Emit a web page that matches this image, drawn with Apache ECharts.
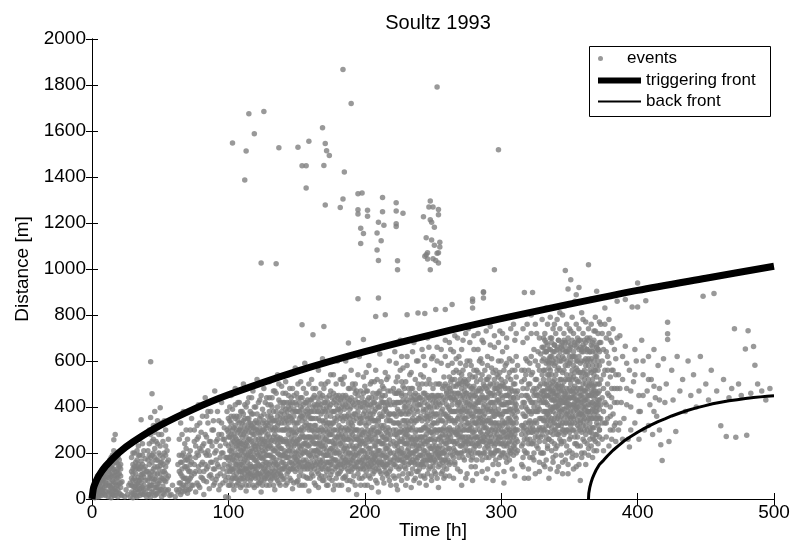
<!DOCTYPE html>
<html>
<head>
<meta charset="utf-8">
<script src="https://cdn.jsdelivr.net/npm/echarts@6/dist/echarts.min.js"></script>
<style>
  html, body { margin: 0; padding: 0; background: #fff; }
  #chart { width: 805px; height: 551px; }
</style>
</head>
<body>
<div id="chart"></div>
<script>
// Soultz 1993 - events vs distance, with triggering and back fronts
var xTicks = [0, 100, 200, 300, 400, 500];
var yTicks = [0, 200, 400, 600, 800, 1000, 1200, 1400, 1600, 1800, 2000];

// events [time h, distance m]
var eventsEarly = [
  [1,10],[1,30],[2,5],[2,40],[3,15],[3,60],[4,25],[4,75],[5,10],[5,50],[5,90],[6,30],[6,70],[7,15],[7,100],[8,45],[8,85],[9,20],[9,110],[10,60],[10,30],
  [12,10],[12,60],[12,120],[13,30],[13,90],[13,170],[14,5],[14,50],[14,140],[15,20],[15,80],[15,110],[15,190],[16,40],[16,100],[16,258],[17,15],[17,70],[17,160],[17,280],[18,30],[18,120],[18,200],[19,10],[19,60],[19,90],[20,25],[20,140],[21,50],[21,100],[22,15],[22,75],
  [24,10],[25,40],[26,20],[27,60],
  [28,10],[28,70],[29,30],[29,120],[30,5],[30,55],[30,150],[31,20],[31,90],[31,200],[32,40],[32,110],[33,10],[33,65],[33,170],[34,30],[34,130],[34,230],[35,15],[35,80],[35,190],[36,45],[36,105],[36,345],[37,20],[37,150],[37,240],[38,60],[38,95],[39,30],[39,175],[40,10],[40,120],
  [41,20],[41,80],[41,210],[42,45],[42,150],[42,300],[43,10],[43,100],[43,354],[43,597],[44,60],[44,190],[44,458],[45,30],[45,130],[45,260],[46,15],[46,85],[46,220],[46,380],[47,50],[47,170],[47,320],[48,25],[48,110],[48,240],[49,70],[49,200],[50,40],[50,145],[50,397],[51,10],[51,90],[51,280],[52,55],[52,180],[53,20],[53,120],[53,340],[54,75],[54,230],[55,35],[55,160],[56,100],[56,260],[57,15],
  [58,20],[59,60],[61,10],[62,40],
  [63,30],[63,150],[64,70],[64,260],[65,20],[65,110],[65,330],[66,50],[66,190],[67,90],[67,380],[68,35],[68,140],[68,240],[69,60],[69,300],[70,25],[70,170],[71,80],[71,120],[72,45],[72,210],[73,100],[73,350],[74,60],
  [75,110],[75,250],[76,30],[76,180],[77,70],[77,320],[78,140],[78,410],[79,50],[79,220],[80,95],[80,290],[81,160],[81,360],[82,20],[82,120],[83,200],[83,440],[84,75],[84,270],[85,140],[85,330],[86,45],[86,190],[87,105],[87,380],[88,230],[88,160],[89,60],[89,300],[90,130],[90,470],[91,210],[91,85],[92,260],[92,150],[93,40],[93,340],[94,180],[94,110],[95,280],[95,420],[96,70],[96,200],[97,150],[97,310],[98,10],[98,240],[99,120],[99,380],[100,5],[100,170],[100,290]
];

var eventsMid = [
  [101,60],[101,210],[101,340],[102,130],[102,280],[102,450],[103,90],[103,170],[103,390],[104,40],[104,250],[104,310],[105,150],[105,200],[105,480],[106,110],[106,260],[106,360],[107,70],[107,190],[107,420],[108,140],[108,300],[108,230],[109,50],[109,175],[109,380],[110,100],[110,270],[110,330],
  [111,160],[111,220],[111,500],[112,80],[112,290],[112,410],[113,130],[113,240],[113,35],[114,190],[114,350],[114,120],[115,60],[115,260],[115,440],[116,150],[116,310],[116,205],[117,90],[117,180],[117,370],[118,240],[118,130],[118,470],[119,50],[119,280],[119,330],[120,170],[120,215],[120,400],
  [121,110],[121,300],[121,520],[122,70],[122,190],[122,260],[123,145],[123,350],[123,430],[124,30],[124,225],[124,290],[125,120],[125,175],[125,390],[126,80],[126,250],[126,480],[127,160],[127,320],[127,210],[128,100],[128,270],[128,440],[129,140],[129,190],[129,360],[130,60],[130,230],[130,510],
  [131,120],[131,300],[131,410],[132,180],[132,255],[132,90],[133,150],[133,340],[133,470],[134,40],[134,210],[134,280],[135,130],[135,380],[135,170],[136,240],[136,320],[136,540],[137,70],[137,195],[137,430],[138,110],[138,265],[138,350],[139,160],[139,220],[139,490],[140,85],[140,300],[140,400],
  [141,140],[141,250],[141,370],[142,60],[142,200],[142,460],[143,110],[143,310],[143,180],[144,230],[144,330],[144,540],[145,90],[145,160],[145,420],[146,270],[146,130],[146,350],[147,45],[147,210],[147,480],[148,180],[148,290],[148,390],[149,120],[149,240],[149,570],[150,75],[150,330],[150,200],
  [151,150],[151,260],[151,440],[152,100],[152,380],[152,300],[153,190],[153,220],[153,510],[154,60],[154,280],[154,340],[155,140],[155,170],[155,410],[156,240],[156,320],[156,590],[157,95],[157,205],[157,460],[158,130],[158,270],[158,370],[159,35],[159,230],[159,300],[160,160],[160,190],[160,430],
  [161,110],[161,350],[161,520],[162,250],[162,145],[162,400],[163,70],[163,290],[163,210],[164,180],[164,320],[164,480],[165,120],[165,240],[165,380],[166,50],[166,270],[166,560],[167,200],[167,150],[167,340],[168,100],[168,310],[168,440],[169,170],[169,230],[169,610],[170,80],[170,290],[170,390],
  [171,140],[171,260],[171,500],[172,210],[172,360],[172,120],[173,60],[173,190],[173,420],[174,250],[174,330],[174,160],[175,105],[175,280],[175,470],[176,175],[176,220],[176,380],[177,40],[177,300],[177,540],[178,130],[178,240],[178,350],[179,200],[179,410],[179,90],[180,160],[180,270],[180,600],
  [181,110],[181,320],[181,450],[182,190],[182,240],[182,380],[183,60],[183,280],[183,520],[184,150],[184,210],[184,340],[185,95],[185,300],[185,430],[186,230],[186,170],[186,600],[187,130],[187,360],[187,260],[188,40],[188,200],[188,480],[189,160],[189,310],[189,390],[190,250],[190,120],[190,560],
  [191,75],[191,280],[191,420],[192,180],[192,220],[192,340],[193,140],[193,370],[193,500],[194,20],[194,260],[194,300],[195,110],[195,190],[195,450],[196,230],[196,330],[196,620],[197,160],[197,270],[197,400],[198,90],[198,350],[198,210],[199,130],[199,290],[199,530],[200,60],[200,240],[200,380],
  [201,180],[201,320],[201,470],[202,150],[202,200],[202,410],[203,100],[203,280],[203,580],[204,220],[204,350],[204,130],[205,50],[205,260],[205,440],[206,170],[206,310],[206,370],[207,120],[207,230],[207,510],[208,190],[208,340],[208,80],[209,150],[209,290],[209,460],[210,30],[210,250],[210,400],
  [211,210],[211,170],[211,630],[212,110],[212,320],[212,360],[213,240],[213,270],[213,490],[214,70],[214,200],[214,420],[215,140],[215,300],[215,550],[216,180],[216,380],[216,260],[217,100],[217,230],[217,470],[218,160],[218,340],[218,600],[219,60],[219,280],[219,410]
];

var eventsLate = [
  [221,150],[221,300],[221,480],[222,90],[222,230],[222,640],[223,190],[223,360],[223,420],[224,40],[224,270],[224,530],[225,130],[225,210],[225,380],[226,250],[226,320],[226,690],[227,80],[227,170],[227,450],[228,200],[228,290],[228,570],[229,140],[229,340],[229,400],[230,60],[230,240],[230,510],
  [231,180],[231,280],[231,620],[232,110],[232,370],[232,220],[233,160],[233,310],[233,460],[234,50],[234,260],[234,550],[235,200],[235,130],[235,390],[236,240],[236,330],[236,680],[237,90],[237,290],[237,430],[238,170],[238,210],[238,600],[239,120],[239,350],[239,500],[240,70],[240,260],[240,410],
  [241,190],[241,300],[241,540],[242,150],[242,230],[242,650],[243,100],[243,380],[243,460],[244,210],[244,270],[244,580],[245,60],[245,320],[245,440],[246,170],[246,250],[246,700],[247,130],[247,360],[247,520],[248,220],[248,290],[248,400],[249,80],[249,190],[249,610],[250,140],[250,330],[250,480],
  [251,250],[251,210],[251,560],[252,110],[252,300],[252,420],[253,180],[253,370],[253,660],[254,50],[254,260],[254,500],[255,150],[255,230],[255,440],[256,200],[256,340],[256,590],[257,120],[257,280],[257,390],[258,90],[258,310],[258,530],[259,170],[259,240],[259,690],[260,130],[260,360],[260,460],
  [261,220],[261,400],[261,580],[262,310],[262,480],[262,150],[263,270],[263,350],[263,650],[264,190],[264,430],[264,520],[265,90],[265,300],[265,380],[266,240],[266,460],[266,710],[267,340],[267,560],[267,200],[268,280],[268,410],[268,130],[269,360],[269,500],[269,620],[270,230],[270,320],[270,450],
  [271,60],[271,270],[271,540],[272,390],[272,180],[272,690],[273,300],[273,470],[273,250],[274,350],[274,420],[274,580],[275,210],[275,110],[275,500],[276,330],[276,440],[276,740],[277,260],[277,380],[277,600],[278,170],[278,310],[278,480],[279,400],[279,530],[279,80],[280,290],[280,360],[280,650],
  [281,230],[281,450],[281,140],[282,330],[282,510],[282,560],[283,270],[283,390],[283,720],[284,200],[284,430],[284,300],[285,350],[285,470],[285,610],[286,120],[286,250],[286,540],[287,310],[287,400],[287,680],[288,220],[288,370],[288,490],[289,280],[289,440],[289,90],[290,340],[290,520],[290,620],
  [291,180],[291,300],[291,410],[292,390],[292,460],[292,750],[293,240],[293,330],[293,570],[294,150],[294,420],[294,500],[295,290],[295,360],[295,660],[296,210],[296,480],[296,380],[297,320],[297,540],[297,110],[298,260],[298,430],[298,600],[299,370],[299,470],[299,730],[300,190],[300,300],[300,520],
  [301,340],[301,410],[301,640],[302,230],[302,490],[302,70],[303,280],[303,380],[303,580],[304,160],[304,450],[304,700],[305,310],[305,350],[305,530],[306,250],[306,420],[306,610],[307,200],[307,390],[307,480],[308,330],[308,560],[308,130],[309,270],[309,440],[309,760],[310,360],[310,500],[310,220],
  [311,300],[311,410],[311,620]
];

var eventsEnd = [
  [315,150],[315,320],[315,510],[316,240],[316,420],[316,680],[317,360],[317,560],[317,90],[318,280],[318,450],[318,610],[319,200],[319,390],[319,760],[320,330],[320,500],[320,130],[321,260],[321,430],[321,590],[322,370],[322,540],[322,800],[323,180],[323,310],[323,470],[324,400],[324,650],[324,250],
  [325,340],[325,520],[325,110],[326,290],[326,450],[326,720],[327,220],[327,380],[327,580],[328,310],[328,490],[328,160],[329,420],[329,630],[329,270],[330,350],[330,540],[330,780],
  [331,300],[331,420],[331,560],[331,200],[332,380],[332,500],[332,640],[332,140],[333,270],[333,450],[333,590],[333,830],[334,340],[334,480],[334,410],[334,230],[335,520],[335,360],[335,610],[335,90],
  [336,290],[336,440],[336,560],[336,700],[337,390],[337,470],[337,250],[337,620],[338,330],[338,510],[338,430],[338,180],[339,400],[339,580],[339,300],[339,760],[340,460],[340,370],[340,540],[340,220],
  [341,350],[341,490],[341,650],[341,120],[342,410],[342,570],[342,280],[342,450],[343,520],[343,380],[343,600],[343,810],[344,320],[344,470],[344,430],[344,240],[345,390],[345,550],[345,680],[345,160],
  [346,450],[346,350],[346,510],[346,610],[347,290],[347,420],[347,580],[347,840],[348,370],[348,480],[348,540],[348,200],[349,400],[349,460],[349,640],[349,110],[350,330],[350,520],[350,590],[350,260],
  [351,440],[351,380],[351,500],[351,730],[352,470],[352,560],[352,300],[352,180],[353,410],[353,530],[353,620],[353,350],[354,450],[354,490],[354,270],[354,860],[355,390],[355,570],[355,430],[355,140],
  [356,510],[356,340],[356,600],[356,230],[357,460],[357,400],[357,550],[357,690],[358,370],[358,480],[358,300],[358,80],[359,420],[359,530],[359,650],[359,200],[360,440],[360,500],[360,360],[360,780],
  [361,390],[361,560],[361,470],[361,250],[362,430],[362,610],[362,320],[362,150],[363,480],[363,540],[363,380],[363,700],[364,410],[364,450],[364,580],[364,220],[365,360],[365,500],[365,640],[365,290],
  [366,470],[366,420],[366,550],[366,870],[367,390],[367,520],[367,180],[367,310],[368,440],[368,600],[368,490],[368,260],[369,350],[369,560],[369,410],[369,730],[370,460],[370,380],[370,530],[370,210],
  [371,500],[371,320],[371,650],[372,430],[372,580],[372,270],
  [373,350],[373,520],[373,760],[374,260],[374,440],[374,600],[375,380],[375,480],[375,210],[376,330],[376,560],[376,830],[377,410],[377,270],[377,640],[378,460],[378,350],[378,500],[379,230],[379,590],
  [379,720],[380,400],[380,300],[380,530],[381,440],[381,260],[381,680],[382,370],[382,560],[383,320],[383,480],[384,250],[384,610],[385,420],[385,860],
  [386,300],[386,540],[387,710],[388,420],[389,620],[390,350],[391,664],[391,867],[392,480],[393,260],[394,226],[394,560],[395,400],[396,835],[397,510],[398,330],[399,600],[400,835],[400,939],[401,450],
  [402,380],[403,690],[404,540],[405,300],[406,862],[407,470],[408,620],[409,410],[410,520],[411,280],[412,650],[413,440],[414,360],[415,580],[416,480],[417,236],[418,167],[419,610],[420,420],[421,500],
  [422,768],[422,719],[422,693],[423,250],[425,560],[426,430],[428,294],[429,620],[431,470],[433,520],[435,380],[437,600],[439,450],[441,540],[443,400],[445,470],[446,620],[448,881],[450,500],[452,430],
  [454,560],[456,893],[458,470],[461,319],[463,520],[465,272],[467,440],[469,480],[471,740],[472,268],[474,500],[476,450],[479,652],[480,277],[481,731],[483,460],[485,663],[486,581],[488,500],[491,470],
  [494,430],[497,480]
];

// more events in the crowded parts: each row is a time, then the distances of events at that time
var crowdEarly = [
  [1,20,50],[2,15,55],[3,30,75],[4,10,45,90],[5,30,70],[6,55,85,20],[7,40,80],[8,25,65,115],[9,50,90,130],[10,15,80,100],
  [12,35,95,150],[13,55,130],[14,25,100,180],[15,45,150],[16,15,75,130,210],[17,45,120,190],[18,60,90,160],[19,40,130,180],[20,70,110,170],[21,20,150],
  [29,60,90,180],[30,25,110,200],[31,50,140],[32,15,80,160],[33,40,140,210],[34,60,95,190],[35,45,130,260],[36,25,70,165],[37,50,110,190],[38,20,130,210],[39,80,140],
  [41,50,120,170],[42,20,90,240],[43,60,180,280],[44,30,120,250],[45,75,200,320],[46,50,140,290],[47,20,90,250],[48,65,170,340],[49,35,130,280],[50,80,190,230],[51,40,160,330],[52,25,120,250],[53,80,200],[54,40,140,300],[55,90,210],[56,40,170],
  [64,40,120,190],[65,70,160],[66,30,130,280],[67,60,200],[68,90,180],[69,40,140,220],[70,75,130,260],[71,40,190],[72,90,150,300],[73,60,160],
  [76,120,230],[78,60,190,270],[80,150,210],[82,80,240],[84,130,190,360],[86,100,250],[88,90,300],[90,70,200],[92,100,380],[94,60,230],[96,130,260],[98,80,180],
  [2,30,60],[4,55,100],[6,40,90],[8,35,105],[10,70,125],[13,70,110],[15,60,130],[17,30,100],[19,110,150],[21,70,130],[30,80,130],[32,60,130],[34,80,150],[36,90,140],[38,40,110],
  [42,60,110,190],[44,90,160],[46,110,180],[48,50,140],[50,110,160],[52,90,150],[54,110,190],[66,100,160],[69,90,170],[72,120,180]
];

var crowdMid = [
  [100,95,230,350,60],[101,150,270,120,400],[102,80,190,330,240],[103,220,300,130,60],[104,170,360,100,280],[105,240,90,320,410],[106,60,180,300,150],[107,130,250,340,220],[108,80,190,360,420],[109,240,310,120,90],
  [110,150,210,380,60],[111,90,280,340,190],[112,170,230,130,350],[113,60,300,400,180],[114,250,90,160,420],[115,130,200,330,290],[116,80,260,380,110],[117,220,290,140,440],[118,60,180,310,370],[119,140,230,400,100],
  [120,90,260,340,140],[121,160,240,370,60],[122,110,330,420,220],[123,70,200,280,180],[124,140,360,100,450],[125,210,260,330,60],[126,130,180,370,300],[127,90,250,420,120],[128,190,330,60,230],[129,110,280,410,250],
  [130,150,190,340,440],[131,80,230,360,190],[132,130,310,400,440],[133,60,210,270,110],[134,160,340,470,120],[135,90,220,300,460],[136,150,270,400,80],[137,120,260,330,500],[138,180,220,420,60],[139,100,300,380,260],
  [140,130,190,250,460],[141,90,300,420,190],[142,150,260,350,510],[143,240,380,420,70],[144,120,180,280,400],[145,210,300,360,480],[146,80,190,410,230],[147,130,250,340,380],[148,70,230,330,450],[149,160,310,420,200],
  [150,130,250,380,460],[151,80,210,330,500],[152,160,230,420,60],[153,120,270,360,440],[154,200,310,390,140],[155,100,240,300,480],[156,160,270,420,60],[157,140,330,380,260],[158,200,430,310,90],[159,150,270,360,500],
  [160,90,240,320,380],[161,180,260,430,210],[162,100,300,350,480],[163,130,240,380,450],[164,60,210,270,400],[165,160,300,440,190],[166,110,220,350,420],[167,240,290,400,90],[168,130,200,370,500],[169,80,270,340,450],
  [170,150,220,330,480],[171,100,190,340,420],[172,160,270,440,60],[173,130,250,330,510],[174,90,210,400,300],[175,150,220,360,540],[176,120,280,440,80],[177,170,240,380,460],[178,60,200,300,430],[179,140,270,340,500],
  [180,110,210,360,440],[181,150,250,390,60],[182,120,300,430,520],[183,170,230,360,400],[184,90,270,450,500],[185,160,220,360,530],[186,100,280,410,350],[187,180,220,440,80],[188,120,260,330,420],[189,80,230,350,480],
  [190,140,190,330,440],[191,170,230,360,500],[192,100,260,410,480],[193,60,220,300,430],[194,160,200,350,470],[195,130,260,380,540],[196,90,280,420,170],[197,210,330,470,60],[198,140,250,300,440],[199,180,210,370,460],
  [200,100,290,330,490],[201,140,230,400,550],[202,60,260,350,470],[203,170,220,380,440],[204,90,290,410,500],[205,150,200,350,510],[206,110,250,420,460],[207,180,280,340,420],[208,130,230,390,560],[209,70,210,320,520],
  [210,160,290,350,460],[211,120,250,400,470],[212,190,240,440,510],[213,90,150,360,420],[214,140,270,320,480],[215,180,220,390,450],[216,110,290,420,520],[217,150,310,360,530],[218,80,210,260,430],[219,130,200,340,470]
];

var crowdLate = [
  [221,100,200,370,420],[222,150,280,330,460],[223,60,240,300,510],[224,170,210,390,460],[225,100,290,330,470],[226,140,200,420,560],[227,220,260,370,510],[228,110,160,340,430],[229,190,240,300,480],[230,130,280,370,450],
  [231,90,210,340,430],[232,150,260,300,480],[233,200,240,380,540],[234,110,160,340,440],[235,170,260,310,480],[236,80,200,370,450],[237,150,210,340,520],[238,120,260,300,430],[239,180,230,410,450],[240,130,190,350,480],
  [241,100,240,360,440],[242,160,270,340,500],[243,140,210,310,530],[244,90,170,350,420],[245,190,250,390,500],[246,110,300,370,450],[247,170,230,300,440],[248,140,180,350,500],[249,100,260,320,450],[250,180,230,370,420],
  [251,120,300,360,440],[252,160,200,370,500],[253,90,220,290,450],[254,140,190,340,420],[255,180,270,360,500],[256,110,250,300,450],[257,160,220,340,480],[258,140,200,370,440],[259,100,280,330,500],[260,190,240,300,410],
  [261,170,300,350,450],[262,220,250,390,530],[263,160,300,440,510],[264,250,340,380,590],[265,180,220,440,550],[266,150,290,380,520],[267,250,290,440,610],[268,200,350,460,500],[269,180,270,420,550],[270,260,380,520,590],
  [271,200,340,430,480],[272,240,300,450,560],[273,170,350,400,520],[274,230,270,460,510],[275,300,380,420,600],[276,190,270,360,520],[277,210,320,450,540],[278,240,370,420,580],[279,180,290,340,460],[280,220,400,490,560],
  [281,270,330,380,530],[282,170,240,420,470],[283,200,320,470,550],[284,250,360,380,600],[285,190,290,420,520],[286,330,380,450,590],[287,200,250,360,500],[288,260,310,430,560],[289,180,340,390,520],[290,230,290,440,580],
  [291,250,350,460,530],[292,200,280,330,500],[293,270,380,450,610],[294,190,310,360,550],[295,230,400,450,520],[296,170,270,330,560],[297,250,370,430,480],[298,210,330,390,530],[299,180,270,420,550],[300,240,360,450,600],
  [301,200,290,370,500],[302,260,330,410,560],[303,180,240,450,510],[304,230,300,380,590],[305,190,270,420,480],[306,300,350,460,550],[307,220,280,330,520],[308,250,370,420,600],[309,190,330,380,500],[310,240,280,420,560],
  [311,200,350,460,530],[312,250,380,440,580]
];

var crowdEnd = [
  [315,230,400,560],[316,180,320,480],[317,260,420,520],[318,200,360,540],[319,300,450,600],[320,240,380,560],[321,180,340,500],[322,290,420,620],[323,240,380,550],[324,200,330,480],
  [325,270,420,600],[326,230,380,520],[327,300,450,640],[328,250,390,560],[329,200,350,500],[330,280,440,600],
  [331,340,470,520,610],[332,300,440,560,420],[333,360,380,500,640],[334,290,380,540,600],[335,320,450,480,570],[336,380,400,500,620],[337,310,430,540,590],[338,280,380,470,600],[339,350,450,520,640],[340,300,420,500,590],
  [341,280,400,450,560],[342,320,360,500,620],[343,290,430,470,560],[344,360,380,520,600],[345,300,440,490,620],[346,280,390,470,560],[347,330,460,520,640],[348,300,420,600,440],[349,350,380,520,580],[350,290,440,480,620],
  [351,320,410,540,600],[352,360,400,520,620],[353,300,440,480,580],[354,330,400,550,620],[355,290,470,520,600],[356,380,430,480,560],[357,310,360,510,620],[358,340,420,590,550],[359,290,370,480,600],[360,320,400,550,640],
  [361,300,430,520,600],[362,370,470,540,580],[363,300,430,600,640],[364,350,380,520,610],[365,310,450,560,600],[366,290,380,500,610],[367,350,460,580,640],[368,310,400,540,560],[369,280,450,500,620],[370,330,420,580,620],
  [371,360,430,560,600],[372,300,390,500,640],
  [387,330,480],[389,260,520],[392,410,590],[395,300,470],[398,540,650],[401,380,260],[404,450,600],[408,320,520],[412,380,490],[416,300,430]
];

// fringes of the cloud: upper band under the front and lower band near the axis
var crowdEdge = [
  [223,590],[227,620],[231,580],[235,640],[239,600],[243,620],[247,660],[250,620],[253,600],[256,650],[259,620],
  [262,680,100],[265,640],[266,160],[268,700],[270,120],[271,650],[274,720,90],[277,680],[278,140],[280,710],[282,110],[283,650],[286,690,170],[289,730],[290,130],
  [292,670],[294,80],[295,710],[298,680,150],[301,720],[302,120],[304,660],[306,170],[307,740],[310,690,100],[311,720],
  [316,740,140],[319,700],[320,90],[322,720],[324,170],[325,760],[328,700,120],
  [330,660,200],[331,700,150],[332,720,250],[333,680,170],[334,760,220],[335,650,260],[336,790,130],[337,700,210],[338,740,160],[339,670,240],
  [340,720,190],[341,780,230],[342,690,140],[343,740,260],[344,660,190],[345,800,110],[346,720,250],[347,680,170],[348,760,230],[349,700,150],
  [350,740,210],[351,660,270],[352,790,200],[353,720,130],[354,680,240],[355,760,190],[356,700,270],[357,740,150],[358,660,230],[359,810,180],
  [360,720,260],[361,690,200],[362,770,280],[363,650,240],[364,740,190],[365,700,260],[366,760,230],[367,680,270],[368,730,210],[369,790,250],
  [370,660,280],[371,720,240],[372,770,300],[373,680,410],[374,720,330],[375,650,540],[376,760,420],[377,700,330],[378,620,560],[379,780,450],
  [380,690,360],[381,560,480],[382,740,300],[383,650,420],[384,540,330],[385,700,480]
];

// the solid core of the cloud
var crowdCore = [
  [75,150,300],[77,200,260],[79,120,330],[81,230,90],[83,150,280],[85,210,380],[87,160,250],[89,130,340],[91,250,170],[93,140,280],[95,200,330],[97,100,260],[99,180,300],
  [100,140,270],[101,180,310],[102,210,360],[103,120,260],[104,190,130],[105,270,350],[106,230,90],[107,160,290],[108,250,120,330],[109,150,210,280],
  [110,120,240,300],[111,130,250,370],[112,200,110,320],[113,140,270,220],[114,100,230,310],[115,180,350,110],[116,140,190,330],[117,250,110,320],[118,210,280,100],[119,170,190,310],
  [120,120,300,230],[121,200,130,330],[122,150,290,90],[123,240,110,310],[124,180,260,80],[125,150,300,240],[126,200,100,340],[127,140,290,230],[128,160,310,120],[129,220,90,320],
  [130,110,270,380],[131,160,250,330],[132,100,220,350],[133,180,300,380],[134,250,100,310],[135,150,260,340],[136,200,110,360],[137,140,300,230],[138,100,250,370],[139,190,330,130],
  [140,160,350,420],[141,210,330,130],[142,300,180,390],[143,140,250,340],[144,210,360,450],[145,130,250,390],[146,160,300,440],[147,150,290,420],[148,260,140,360],[149,180,280,380],
  [150,170,290,410],[151,180,240,380],[152,140,260,350],[153,160,300,400],[154,230,360,440],[155,200,270,370],[156,130,210,350],[157,170,240,420],[158,150,230,390],[159,190,320,410],
  [160,130,270,350],[161,140,300,380],[162,200,270,440],[163,160,320,410],[164,150,240,350],[165,210,270,410],[166,140,300,380],[167,170,250,460],[168,160,230,410],[169,130,300,380],
  [170,190,250,420],[171,230,300,380],[172,190,320,400],[173,160,290,380],[174,130,280,450],[175,190,320,410],[176,150,250,330],[177,210,330,420],[178,170,260,380],[179,170,230,450],
  [180,140,300,390],[181,200,280,420],[182,150,270,350],[183,130,310,440],[184,180,250,410],[185,140,260,390],[186,200,310,450],[187,160,300,400],[188,150,300,370],[189,200,270,430],
  [190,170,290,400],[191,130,200,320],[192,150,300,370],[193,190,270,460],[194,140,230,400],[195,160,300,420],[196,200,250,360],[197,130,240,350],[198,170,280,400],[199,150,250,420],
  [200,160,200,420],[201,120,270,360],[202,180,300,430],[203,140,250,330],[204,160,270,370],[205,180,300,400],[206,140,200,340],[207,160,300,380],[208,170,270,440],[209,190,250,410],
  [210,130,210,340],[211,150,300,370],[212,160,280,420],[213,190,310,450],[214,160,240,380],[215,120,260,400],[216,150,220,340],[217,190,280,410],[218,120,300,370],[219,170,240,370],
  [221,170,250,330],[222,180,370,410],[223,140,280,460],[224,230,330,420],[225,170,250,420],[226,180,290,370],[227,200,300,460],[228,250,380,490],[229,160,270,420],[230,180,320,400],
  [231,240,300,380],[232,190,330,420],[233,180,270,400],[234,200,300,480],[235,230,350,430],[236,160,270,410],[237,180,250,460],[238,230,340,390],[239,150,270,380],[240,220,300,440],
  [241,150,270,410],[242,190,300,430],[243,170,250,390],[244,240,310,460],[245,150,280,360],[246,200,340,410],[247,190,260,400],[248,170,260,430],[249,220,290,380],[250,160,280,450],
  [251,170,330,400],[252,230,260,440],[253,200,330,400],[254,220,300,450],[255,200,300,410],[256,170,270,380],[257,200,300,420],[258,170,250,490],[259,210,370,430],[260,160,270,470],
  [261,260,360,490],[262,280,340,440],[263,200,380,470],[264,290,410,460],[265,250,340,490],[266,210,330,430],[267,280,380,490],[268,240,310,420],[269,300,390,460],[270,200,290,410],
  [271,230,380,500],[272,270,360,510],[273,210,320,440],[274,250,380,490],[275,250,330,460],[276,240,300,400],[277,300,410,490],[278,200,270,440],[279,240,360,480],[280,260,330,450],
  [281,200,300,410],[282,270,380,440],[283,240,350,420],[284,230,340,480],[285,260,380,440],[286,280,330,480],[287,270,340,440],[288,200,330,410],[289,240,310,480],[290,270,390,470],
  [291,220,380,490],[292,250,340,420],[293,200,300,420],[294,250,380,460],[295,200,330,480],[296,240,300,420],[297,210,280,500],[298,300,370,460],[299,240,320,490],[300,270,410,490],
  [301,240,320,440],[302,200,290,380],[303,330,420,480],[304,270,330,410],[305,240,380,450],[306,210,290,390],[307,270,340,440],[308,210,290,470],[309,230,310,440],[310,300,400,470],
  [311,260,330,390],[312,210,300,470],
  [315,280,450],[316,300,370],[317,210,310],[318,330,400],[319,260,480],[320,290,440],[321,310,380],[322,240,330],[323,290,420],[324,300,450],[325,380,460],[326,330,480],[327,270,400],[328,350,430],[329,300,460],[330,310,470],
  [331,380,450,660],[332,340,470,690],[333,320,420,640],[334,370,450,670],[335,260,540,590],[336,340,470,650],[337,350,490,680],[338,400,460,640],[339,330,430,670],[340,400,480,610],
  [341,320,430,660],[342,390,480,690],[343,340,410,640],[344,250,490,670],[345,330,420,650],[346,300,420,690],[347,370,440,660],[348,330,400,640],[349,300,430,680],[350,360,410,650],
  [351,350,470,670],[352,330,440,690],[353,380,460,640],[354,360,420,670],[355,240,410,660],[356,320,400,680],[357,370,430,650],[358,330,450,690],[359,380,450,640],[360,340,470,670],
  [361,350,410,660],[362,400,500,680],[363,340,450,650],[364,380,490,690],[365,330,410,640],[366,350,450,670],[367,420,490,660],[368,370,470,690],[369,380,470,640],[370,350,400,670],
  [371,410,460,650],[372,350,470,680]
];

// events above the triggering front
var eventsHigh = [
  [154,758],[170,750],[162,714],[188,678],[199,693],[208,794],[215,801],[231,801],[239,809],[244,806],[252,824],[259,824],[264,846],
  [195,871],[210,874],[279,859],[279,830],[287,898],[287,874],[279,870],[287,901],[295,997],[317,898],[323,898],[347,994],[351,953],
  [349,913],[355,888],[357,920],[364,1019],[370,903],
  [115,1675],[126,1685],[119,1588],[103,1548],[113,1513],[137,1527],[151,1529],[159,1555],[154,1449],[157,1449],[112,1387],[157,1352],
  [124,1026],[135,1023],[184,1867],[253,1791],[190,1720],[169,1614],[171,1546],[172,1514],[174,1494],[170,1450],[185,1422],[298,1519],
  [195,1327],[198,1330],[184,1304],[171,1278],[182,1267],[213,1311],[223,1288],[195,1258],[202,1255],[195,1239],[202,1229],[213,1249],
  [223,1252],[228,1242],[223,1197],[223,1185],[210,1203],[214,1190],[197,1177],[199,1154],[209,1156],[212,1123],[197,1111],[209,1083],
  [210,1037],[224,1036],[224,997],
  [248,1296],[247,1270],[250,1270],[254,1259],[254,1236],[243,1227],[248,1214],[249,1203],[251,1181],[245,1136],[249,1126],[255,1116],
  [251,1103],[255,1096],[245,1062],[246,1071],[244,1055],[246,1044],[250,1045],[252,1037],[254,1026],[253,1068],[254,1071],[248,997]
];

// fronts
var triggeringFront = [[0,0],[1,45],[2,64],[5,101],[10,143],[20,203],[30,248],[50,320],[75,392],[100,453],[150,555],[200,641],[250,716],[300,784],[350,847],[400,907],[450,960],[500,1012]];
var backFront = [[364,0],[364.2,25],[365,52],[366,74],[367,92],[368,106],[369.5,125],[372,150],[375,168],[378,188],[382,212],[386,232],[390,252],[395,272],[400,290],[405,307],[410,322],[415,336],[420,348],[425,361],[431,374],[437,386],[443,396],[449,405],[455,414],[461,421],[467,427],[473,432],[479,437],[485,441],[490,444],[495,447],[500,449]];

function rowsToPoints(rows) {
  var pts = [];
  rows.forEach(function (row) {
    for (var i = 1; i < row.length; i++) pts.push([row[0], row[i]]);
  });
  return pts;
}

var allEvents = eventsEarly.concat(eventsMid, eventsLate, eventsEnd, eventsHigh,
  rowsToPoints(crowdEarly), rowsToPoints(crowdMid), rowsToPoints(crowdLate),
  rowsToPoints(crowdEnd), rowsToPoints(crowdEdge), rowsToPoints(crowdCore));

var chart = echarts.init(document.getElementById('chart'), null, { renderer: 'canvas' });

var fontFam = '"Liberation Sans", Arial, Helvetica, sans-serif';

function mirrorAxis(pos, min, max, step) {
  return {
    type: 'value', position: pos, min: min, max: max, interval: step,
    axisLine: { show: true, lineStyle: { color: '#000', width: 1 } },
    axisTick: { show: true, inside: true, length: 6, lineStyle: { color: '#000' } },
    axisLabel: { show: false },
    splitLine: { show: false }
  };
}

var option = {
  animation: false,
  backgroundColor: '#fff',
  title: {
    text: 'Soultz 1993',
    left: 433, top: 8, textAlign: 'center',
    textStyle: { fontFamily: fontFam, fontSize: 20, fontWeight: 'normal', color: '#000' }
  },
  grid: { left: 92, right: 31, top: 39, bottom: 52 },
  legend: [
    {
      data: [{ name: 'events', icon: 'circle' }],
      left: 598, top: 50, padding: 0, itemWidth: 43, itemHeight: 5, z: 10,
      textStyle: { fontFamily: fontFam, fontSize: 17, color: '#000' }
    },
    {
      data: [{ name: 'triggering front', icon: 'rect' }],
      left: 598, top: 72, padding: 0, itemWidth: 43, itemHeight: 6, z: 10,
      textStyle: { fontFamily: fontFam, fontSize: 17, color: '#000' }
    },
    {
      data: [{ name: 'back front', icon: 'rect' }],
      left: 598, top: 93, padding: 0, itemWidth: 43, itemHeight: 2, z: 10,
      textStyle: { fontFamily: fontFam, fontSize: 17, color: '#000' }
    }
  ],
  graphic: [{
    type: 'rect', left: 589, top: 46, z: 5,
    shape: { width: 181, height: 70 },
    style: { fill: '#fff', stroke: '#000', lineWidth: 1 }
  }],
  xAxis: [
    {
      type: 'value', position: 'bottom', min: xTicks[0], max: xTicks[xTicks.length - 1], interval: 100,
      name: 'Time [h]', nameLocation: 'middle', nameGap: 22, nameMoveOverlap: false,
      nameTextStyle: { fontFamily: fontFam, fontSize: 19, color: '#000' },
      axisLine: { show: true, lineStyle: { color: '#000', width: 1 } },
      axisTick: { show: true, inside: true, length: 6, lineStyle: { color: '#000' } },
      axisLabel: { fontFamily: fontFam, fontSize: 19, color: '#000', margin: 4, formatter: function (v) { return String(v); } },
      splitLine: { show: false }
    },
    mirrorAxis('top', 0, 500, 100)
  ],
  yAxis: [
    {
      type: 'value', position: 'left', min: yTicks[0], max: yTicks[yTicks.length - 1], interval: 200,
      name: 'Distance [m]', nameLocation: 'middle', nameGap: 60,
      nameTextStyle: { fontFamily: fontFam, fontSize: 19, color: '#000' },
      axisLine: { show: true, lineStyle: { color: '#000', width: 1 } },
      axisTick: { show: true, inside: true, length: 6, lineStyle: { color: '#000' } },
      axisLabel: { fontFamily: fontFam, fontSize: 19, color: '#000', margin: 6, formatter: function (v) { return String(v); } },
      splitLine: { show: false }
    },
    mirrorAxis('right', 0, 2000, 200)
  ],
  series: [
    {
      name: 'events',
      type: 'scatter',
      symbol: 'circle',
      symbolSize: 5.5,
      large: false,
      itemStyle: { color: '#808080' },
      data: allEvents
    },
    {
      name: 'triggering front',
      type: 'line',
      smooth: 0.3,
      showSymbol: false,
      color: '#000',
      lineStyle: { color: '#000', width: 7 },
      itemStyle: { color: '#000' },
      data: triggeringFront
    },
    {
      name: 'back front',
      type: 'line',
      smooth: false,
      showSymbol: false,
      color: '#000',
      lineStyle: { color: '#000', width: 3 },
      itemStyle: { color: '#000' },
      data: backFront
    }
  ]
};

chart.setOption(option);
</script>
</body>
</html>
